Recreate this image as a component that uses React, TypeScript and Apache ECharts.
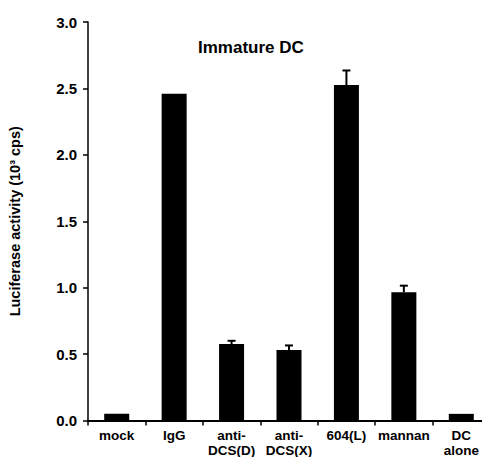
import React, { useEffect, useRef } from "react";
import * as echarts from "echarts";

const categories = ["mock", "IgG", "anti-\nDCS(D)", "anti-\nDCS(X)", "604(L)", "mannan", "DC\nalone"];
const values = [0.05, 2.46, 0.575, 0.53, 2.525, 0.965, 0.05];
const errors = [0, 0, 0.025, 0.035, 0.11, 0.05, 0];
const yTicks = { min: 0, max: 3, interval: 0.5 };
const title = "Immature DC";
const yName = "Luciferase activity (10³ cps)";

const FONT = "'Liberation Sans', Arial, sans-serif";

export default function App() {
  const ref = useRef<HTMLDivElement>(null);
  useEffect(() => {
    if (!ref.current) return;
    const chart = echarts.init(ref.current, null, { renderer: "svg" });
    const errData = values.map((v, i) => [i, v, v + errors[i]]).filter((d, i) => errors[i] > 0);
    chart.setOption({
      animation: false,
      backgroundColor: "#fff",
      title: {
        text: title,
        left: 193,
        top: 34,
        textStyle: { fontFamily: FONT, fontWeight: "bold", fontSize: 17, color: "#000" },
      },
      grid: {
        left: 88,
        top: 22,
        width: 402,
        height: 398.5,
        containLabel: false,
        outerBoundsMode: "none",
      },
      xAxis: {
        type: "category",
        data: categories,
        boundaryGap: true,
        axisLine: { lineStyle: { color: "#000", width: 2 } },
        axisTick: { show: true, length: 5, lineStyle: { color: "#000", width: 1.5 } },
        axisLabel: {
          color: "#000",
          fontFamily: FONT,
          fontWeight: "bold",
          fontSize: 13.5,
          lineHeight: 15,
          margin: 7,
          interval: 0,
        },
      },
      yAxis: {
        type: "value",
        min: yTicks.min,
        max: yTicks.max,
        interval: yTicks.interval,
        name: yName,
        nameLocation: "middle",
        nameGap: 66,
        nameTextStyle: { fontFamily: FONT, fontWeight: "bold", fontSize: 14.5, color: "#000" },
        splitLine: { show: false },
        axisLine: { show: true, lineStyle: { color: "#000", width: 1.5 } },
        axisTick: { show: true, length: 5, lineStyle: { color: "#000", width: 1.5 } },
        axisLabel: {
          color: "#000",
          fontFamily: FONT,
          fontWeight: "bold",
          fontSize: 15,
          margin: 11,
          formatter: (v: number) => v.toFixed(1),
        },
      },
      series: [
        {
          type: "bar",
          data: values,
          barWidth: 25,
          itemStyle: { color: "#000" },
        },
        {
          type: "custom",
          data: errData,
          renderItem: (params: any, api: any) => {
            const x = api.value(0);
            const lo = api.coord([x, api.value(1)]);
            const hi = api.coord([x, api.value(2)]);
            const cx = lo[0];
            return {
              type: "group",
              children: [
                {
                  type: "line",
                  shape: { x1: cx, y1: lo[1], x2: cx, y2: hi[1] },
                  style: { stroke: "#000", lineWidth: 2 },
                },
                {
                  type: "line",
                  shape: { x1: cx - 4, y1: hi[1], x2: cx + 4, y2: hi[1] },
                  style: { stroke: "#000", lineWidth: 2 },
                },
              ],
            };
          },
        },
      ],
    });
    return () => chart.dispose();
  }, []);
  return (
    <div
      ref={ref}
      style={{ position: "fixed", left: 0, top: 0, width: 482, height: 457, background: "#fff" }}
    />
  );
}
